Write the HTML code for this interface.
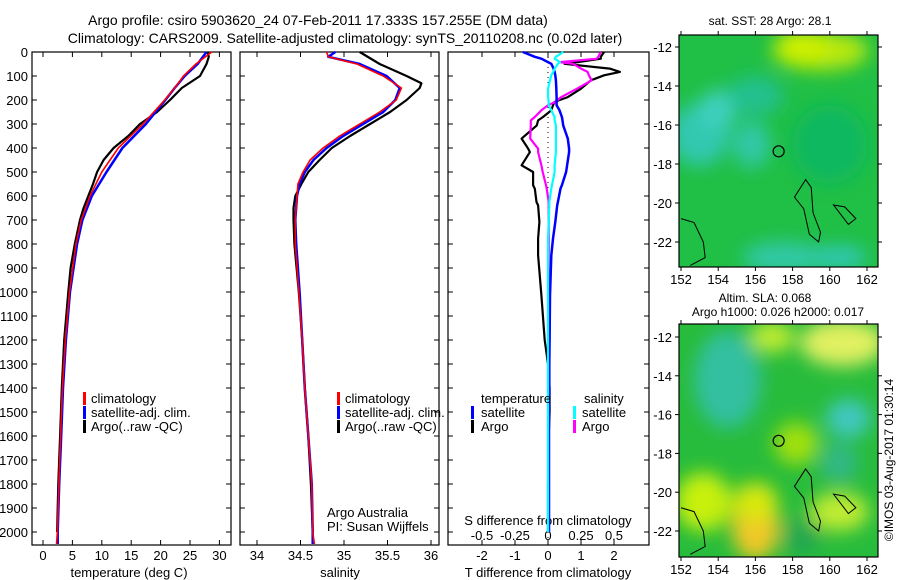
<!DOCTYPE html>
<html><head><meta charset="utf-8">
<style>
html,body{margin:0;padding:0;background:#fff;}
svg{display:block;font-family:"Liberation Sans",sans-serif;}
</style></head>
<body>
<svg id="fig" width="900" height="580" viewBox="0 0 900 580" xmlns="http://www.w3.org/2000/svg">
<defs>
<filter id="blur1" x="-20%" y="-20%" width="140%" height="140%"><feGaussianBlur stdDeviation="9"/></filter>
<clipPath id="clipTop"><rect x="679" y="35" width="199" height="232"/></clipPath>
<clipPath id="clipBot"><rect x="679" y="324" width="199" height="233"/></clipPath>
</defs>
<text x="318" y="25" font-size="14" text-anchor="middle">Argo profile: csiro 5903620_24 07-Feb-2011 17.333S 157.255E (DM data)</text>
<text x="345" y="43" font-size="14" text-anchor="middle">Climatology: CARS2009. Satellite-adjusted climatology: synTS_20110208.nc (0.02d later)</text>
<g id="plots"></g>
</svg>
<script>
// ---- data ----
const depthT_clim = [0,50,100,150,200,300,400,500,600,700,800,1000,1200,1400,1600,1800,2000,2050];
const temp_clim   = [28.7,26,23.9,22.4,20.7,17,12.8,10,8,6.5,5.6,4.5,3.8,3.3,3.0,2.7,2.45,2.3];
const temp_sat    = [27.8,26.3,24.1,22.4,20.8,17.5,13.5,10.8,8.3,6.7,5.8,4.6,3.9,3.4,3.1,2.75,2.5,2.5];
const depthT_argo = [0,20,50,100,150,200,250,300,350,400,450,500,550,600,650,700,800,900,1000,1200,1400,1600,1800,2000];
const temp_argo   = [28,28.2,27.8,26.7,23.6,21.6,19.4,16.5,14.5,12,10.3,9.2,8.5,7.7,6.9,6.3,5.4,4.7,4.3,3.6,3.2,2.9,2.6,2.4];

const depthS = [0,20,50,100,150,200,250,300,350,400,450,500,550,600,700,800,1000,1200,1400,1600,1800,2000,2050];
const sal_clim = [34.8,34.82,35.15,35.45,35.66,35.6,35.41,35.18,34.95,34.76,34.61,34.53,34.47,34.46,34.44,34.44,34.48,34.52,34.55,34.59,34.63,34.64,34.66];
const sal_sat  = [34.9,34.82,35.18,35.49,35.64,35.59,35.45,35.22,34.99,34.8,34.65,34.55,34.49,34.46,34.44,34.45,34.49,34.52,34.55,34.59,34.63,34.64,34.64];
const depthS_argo = [0,50,100,130,150,200,250,300,350,400,450,500,550,600,650,700,800,1000,1200,1400,1600,1800,2000];
const sal_argo = [35.18,35.41,35.72,35.89,35.87,35.72,35.53,35.3,35.07,34.86,34.72,34.59,34.51,34.44,34.42,34.42,34.43,34.48,34.52,34.55,34.59,34.62,34.64];

const depthD = [0,20,28,42,49,69,83,97,118,153,188,208,222,243,271,285,306,361,403,417,472,500,555,569,625,639,708,778,847,1014,1200,1300,1400,1500,1600,1800,2000];
const tdiff_sat  = [-0.76,-0.4,-0.2,0,0.1,0.17,0.2,0.22,0.24,0.25,0.26,0.26,0.26,0.35,0.42,0.44,0.46,0.6,0.64,0.64,0.58,0.55,0.42,0.38,0.3,0.28,0.22,0.15,0.1,0.06,0.05,0.04,0.04,0.03,0.03,0.03,0.03];
const tdiff_argo = [1.7,1.6,1.6,0.9,0.5,1.87,2.18,1.7,1.3,1.0,0.6,0.2,0.15,0.1,-0.15,-0.3,-0.34,-0.8,-0.6,-0.55,-0.8,-0.45,-0.45,-0.4,-0.35,-0.3,-0.26,-0.3,-0.3,-0.2,-0.1,0,0.05,0.05,0.02,0,0];
const sdiff_sat  = [0.115,0.06,0.05,0.09,0.075,0.05,0.04,0.025,0.015,0,0,0.005,0.005,0.025,0.05,0.05,0.06,0.06,0.06,0.06,0.05,0.05,0.03,0.025,0.01,0.01,0.005,0,0,0,0,0,0,0,0,0,0];
const sdiff_argo = [0.4,0.38,0.37,0.09,0.19,0.25,0.3,0.31,0.33,0.22,0.1,0.055,0.0,-0.05,-0.1,-0.13,-0.13,-0.135,-0.075,-0.075,-0.05,-0.04,-0.015,-0.01,0.005,0.005,0.005,0.005,0.005,0.005,0.005,0.005,0.005,0.005,0.005,0.005,0.005];

const depthTicks = [0,100,200,300,400,500,600,700,800,900,1000,1100,1200,1300,1400,1500,1600,1700,1800,1900,2000];
const tTicks = [0,5,10,15,20,25,30];
const sTicks = [34,34.5,35,35.5,36];
const sTickLabels = ["34","34.5","35","35.5","36"];
const dTTicks = [-2,-1,0,1,2];
const dSTicks = [-0.5,-0.25,0,0.25,0.5];
const dSTickLabels = ["-0.5","-0.25","0","0.25","0.5"];
const lonTicks = [152,154,156,158,160,162];
const latTicks = [12,14,16,18,20,22];

// ---- axes ----
const Y0=52, YPX=0.24, BOT=545;
const yD = d => Y0 + d*YPX;
const xT = t => 43 + t*5.88;
const xS = s => 257 + (s-34)*87;
const xDT = v => 548 + v*33;
const xDS = v => 548 + v*132;
const lonX = l => 681 + (l-152)*18.6;
const latYt = l => 47 + (l-12)*19.5;
const latYb = l => 337 + (l-12)*19.4;

const NS="http://www.w3.org/2000/svg";
const root=document.getElementById('plots');
function mk(tag, attrs, parent){const e=document.createElementNS(NS,tag);for(const k in attrs)e.setAttribute(k,attrs[k]);(parent||root).appendChild(e);return e;}
function txt(x,y,s,anchor,size,parent){const t=mk('text',{x:x,y:y,'font-size':size||13,'text-anchor':anchor||'middle'},parent);t.textContent=s;return t;}
function line(xs,ds,fx,color,w,name){
  let p='';for(let i=0;i<xs.length;i++){p+=(i?'L':'M')+fx(xs[i]).toFixed(1)+' '+yD(ds[i]).toFixed(1);}
  const e=mk('path',{d:p,fill:'none',stroke:color,'stroke-width':w,'stroke-linejoin':'round'});
  
  
  return e;
}
function box(x0,x1,name){
  const r=mk('rect',{x:x0,y:Y0,width:x1-x0,height:BOT-Y0,fill:'none',stroke:'#000','stroke-width':1.2});
  
  
  depthTicks.forEach(d=>{mk('line',{x1:x0,x2:x0+5,y1:yD(d),y2:yD(d),stroke:'#000'});mk('line',{x1:x1,x2:x1-5,y1:yD(d),y2:yD(d),stroke:'#000'});});
}
// panel 1
box(32,231,'temperature-panel');
depthTicks.forEach(d=>{const t=txt(28,yD(d)+5,String(d),'end',13);});
tTicks.forEach(v=>{mk('line',{x1:xT(v),x2:xT(v),y1:BOT,y2:BOT-5,stroke:'#000'});mk('line',{x1:xT(v),x2:xT(v),y1:Y0,y2:Y0+5,stroke:'#000'});const t=txt(xT(v),560,String(v));});
{const t=txt(129,577,'temperature (deg C)');}
line(temp_argo,depthT_argo,xT,'#000',2.2,'temp-argo-line');
line(temp_sat,depthT_clim,xT,'#00f',2.5,'temp-satellite-line');
line(temp_clim,depthT_clim,xT,'#f00',1.6,'temp-climatology-line');
// panel 2
box(240,439,'salinity-panel');
sTicks.forEach((v,i)=>{mk('line',{x1:xS(v),x2:xS(v),y1:BOT,y2:BOT-5,stroke:'#000'});mk('line',{x1:xS(v),x2:xS(v),y1:Y0,y2:Y0+5,stroke:'#000'});const t=txt(xS(v),560,sTickLabels[i]);});
{const t=txt(340,577,'salinity');}
line(sal_argo,depthS_argo,xS,'#000',2.2,'salinity-argo-line');
line(sal_sat,depthS,xS,'#00f',2.5,'salinity-satellite-line');
line(sal_clim,depthS,xS,'#f00',1.6,'salinity-climatology-line');
{const t=txt(327,517,'Argo Australia','start');
 const u=txt(327,531,'PI: Susan Wijffels','start');}
// legends
function legend(x,y,items,name){
  const g=mk('g',{});
  items.forEach((it,i)=>{mk('rect',{x:x,y:y+i*14-11,width:3,height:13,fill:it[0]},g);txt(x+8,y+i*14,it[1],'start',13,g);});
}
legend(83,403,[['#f00','climatology'],['#00f','satellite-adj. clim.'],['#000','Argo(..raw -QC)']],'temperature-legend');
legend(337,403,[['#f00','climatology'],['#00f','satellite-adj. clim.'],['#000','Argo(..raw -QC)']],'salinity-legend');
// panel 3
box(448,649,'difference-panel');
mk('line',{x1:548,x2:548,y1:Y0,y2:BOT,stroke:'#000','stroke-dasharray':'1 4'});
dTTicks.forEach(v=>{mk('line',{x1:xDT(v),x2:xDT(v),y1:BOT,y2:BOT-5,stroke:'#000'});mk('line',{x1:xDT(v),x2:xDT(v),y1:Y0,y2:Y0+5,stroke:'#000'});const t=txt(xDT(v),560,String(v));});
dSTicks.forEach((v,i)=>{const t=txt(xDS(v),540,dSTickLabels[i]);});
{const t=txt(548,577,'T difference from climatology');
 const u=txt(548,525,'S difference from climatology');}
line(tdiff_argo,depthD,xDT,'#000',2.2,'tdiff-argo-line');
line(sdiff_argo,depthD,xDS,'#f0f',2.2,'sdiff-argo-line');
line(tdiff_sat,depthD,xDT,'#00f',2.5,'tdiff-satellite-line');
line(sdiff_sat,depthD,xDS,'#0ff',2.2,'sdiff-satellite-line');
{const g=mk('g',{});
 txt(481,403,'temperature','start',13,g);txt(584,403,'salinity','start',13,g);
 mk('rect',{x:471,y:406,width:3,height:13,fill:'#00f'},g);txt(481,417,'satellite','start',13,g);
 mk('rect',{x:471,y:420,width:3,height:13,fill:'#000'},g);txt(481,431,'Argo','start',13,g);
 mk('rect',{x:573,y:406,width:3,height:13,fill:'#0ff'},g);txt(582,417,'satellite','start',13,g);
 mk('rect',{x:573,y:420,width:3,height:13,fill:'#f0f'},g);txt(582,431,'Argo','start',13,g);}

// maps
function map(top,bottom,latY,clip,base,blobs,name){
  const g=mk('g',{'clip-path':'url(#'+clip+')'});
  mk('rect',{x:679,y:top,width:199,height:bottom-top,fill:base},g);
  const gb=mk('g',{filter:'url(#blur1)'},g);
  blobs.forEach(b=>mk('ellipse',{cx:lonX(b[0]),cy:latY(b[1]),rx:b[2]*18.6,ry:b[3]*19.5,fill:b[4]},gb));
  const c='M'+lonX(158.7)+' '+latY(18.8)+' L'+lonX(159)+' '+latY(19.2)+' L'+lonX(159.1)+' '+latY(20.5)+' L'+lonX(159.5)+' '+latY(21.5)+' L'+lonX(159.4)+' '+latY(22)+' L'+lonX(158.9)+' '+latY(21.6)+' L'+lonX(158.6)+' '+latY(20.3)+' L'+lonX(158.1)+' '+latY(19.7)+' Z';
  mk('path',{d:c,fill:'none',stroke:'#000','stroke-width':1},g);
  mk('path',{d:'M'+lonX(152)+' '+latY(20.8)+' L'+lonX(152.7)+' '+latY(21)+' L'+lonX(153.2)+' '+latY(22)+' L'+lonX(153.3)+' '+latY(22.8)+' L'+lonX(152.5)+' '+latY(23.2),fill:'none',stroke:'#000','stroke-width':1},g);
  mk('path',{d:'M'+lonX(160.2)+' '+latY(20.1)+' L'+lonX(160.8)+' '+latY(20.2)+' L'+lonX(161.4)+' '+latY(20.8)+' L'+lonX(161)+' '+latY(21.1)+' L'+lonX(160.6)+' '+latY(20.6)+' Z',fill:'none',stroke:'#000','stroke-width':1},g);
  const circ=mk('circle',{cx:lonX(157.25),cy:latY(17.35),r:5.5,fill:'none',stroke:'#000','stroke-width':1.2});
  
  const fr=mk('rect',{x:679,y:top,width:199,height:bottom-top,fill:'none',stroke:'#000','stroke-width':1.2});
  
  lonTicks.forEach(l=>{mk('line',{x1:lonX(l),x2:lonX(l),y1:bottom,y2:bottom+4,stroke:'#000'});mk('line',{x1:lonX(l),x2:lonX(l),y1:top,y2:top-4,stroke:'#000'});const t=txt(lonX(l),bottom+17,String(l));});
  latTicks.forEach(l=>{mk('line',{x1:679,x2:675,y1:latY(l),y2:latY(l),stroke:'#000'});mk('line',{x1:878,x2:882,y1:latY(l),y2:latY(l),stroke:'#000'});const t=txt(672,latY(l)+5,'-'+l,'end');});
}
map(35,267,latYt,'clipTop','#20bf45',[
  [153,16.5,1.6,1.6,'#30c8b0'],[154,15.2,1,1,'#40d0c0'],[155.8,17,1,1.2,'#30c8a8'],
  [159.5,12.2,2.6,1,'#b8e810'],[158.5,11.9,1.4,0.8,'#d0f000'],[157.5,22.8,2.2,0.8,'#30c8a8'],
  [160.5,22.8,1.5,0.6,'#30c8b8'],[156,14.5,1.5,1,'#20c090'],[160,17,2,2,'#10b860']],'sst-map');
map(324,557,latYb,'clipBot','#28bc3c',[
  [154.6,14.8,1.3,1.6,'#50c8d8'],[154.5,14.2,1.8,2.5,'#30c0a0'],[161,16.2,1.2,1,'#40c8c0'],
  [160.7,12.3,2.3,1.2,'#e0f060'],[156.9,12,1.2,0.8,'#c0ec30'],[153.2,20.5,1.5,1.5,'#c8f010'],
  [156,21.7,1.3,1.8,'#f0c828'],[156,20.5,1.2,1,'#d8e810'],[158.2,17.5,1.2,1.1,'#a0e010'],
  [160.5,21,1.6,1,'#c0ec30'],[158.5,22.3,1,1,'#20a850'],[160.5,18.5,1,1,'#30b888']],'sla-map');
{const t=txt(770,25,'sat. SST: 28 Argo: 28.1','middle',12);
 const u=txt(765,302,'Altim. SLA: 0.068','middle',12);
 const v=txt(778,316,'Argo h1000: 0.026 h2000: 0.017','middle',12);
 const w=txt(0,0,'©IMOS 03-Aug-2017 01:30:14','middle',12);w.setAttribute('transform','translate(893,460) rotate(-90)');}
</script>
</body></html>
